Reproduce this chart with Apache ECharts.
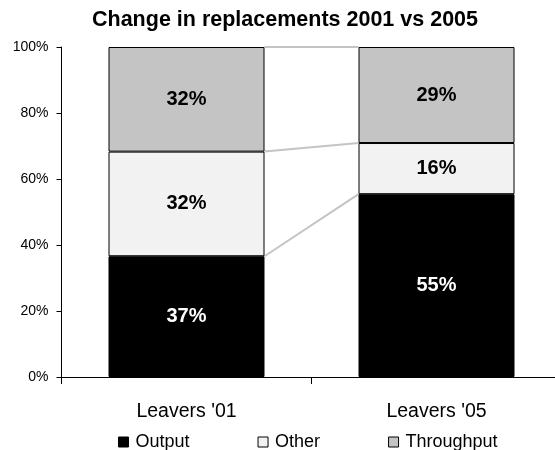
<!DOCTYPE html>
<html>
<head>
<meta charset="utf-8">
<script src="https://cdn.jsdelivr.net/npm/echarts@6/dist/echarts.min.js"></script>
<style>html,body{margin:0;padding:0;background:#fff;overflow:hidden;}#c{width:575px;height:450px;}</style>
</head>
<body>
<div id="c"></div>
<script>
const categories = ["Leavers '01", "Leavers '05"];
const outputValues = [36.6, 55.4];
const otherValues = [31.7, 15.5];
const throughputValues = [31.7, 29.1];
const yTicks = [0, 20, 40, 60, 80, 100];

const FONT = "'Liberation Sans', Arial, sans-serif";
const BAR_FRAC = 0.624;

// cumulative boundaries for the connector lines
const levels = [
  [0, outputValues[0], outputValues[1]],
  [0, outputValues[0] + otherValues[0], outputValues[1] + otherValues[1]],
  [0, outputValues[0] + otherValues[0] + throughputValues[0], outputValues[1] + otherValues[1] + throughputValues[1]]
];

const chart = echarts.init(document.getElementById('c'), null, {renderer: 'canvas'});
const labelFmt = p => Math.round(p.value) + '%';

function barSeries(name, data, color, labelColor) {
  return {
    name: name, type: 'bar', stack: 'total', data: data,
    barWidth: (BAR_FRAC * 100) + '%',
    itemStyle: {color: color, borderColor: '#000', borderWidth: 1},
    label: {show: true, position: 'inside', formatter: labelFmt,
      color: labelColor, fontFamily: FONT, fontWeight: 'bold', fontSize: 20},
    emphasis: {disabled: true},
    z: 3
  };
}

chart.setOption({
  animation: false,
  backgroundColor: '#fff',
  title: {
    text: 'Change in replacements 2001 vs 2005',
    left: 92, top: 9, padding: 0,
    textStyle: {fontFamily: FONT, fontWeight: 'bold', fontSize: 21.5, color: '#000'}
  },
  legend: {
    data: ['Output', 'Other', 'Throughput'],
    left: 118, top: 433, padding: 0,
    icon: 'rect', itemWidth: 10, itemHeight: 10, itemGap: 68,
    itemStyle: {borderColor: '#000', borderWidth: 1},
    textStyle: {fontFamily: FONT, fontSize: 18, color: '#000', padding: [0, 0, 0, 2]}
  },
  grid: {left: 61.5, top: 47, width: 500, height: 330, containLabel: false},
  xAxis: {
    type: 'category', data: categories,
    axisLine: {lineStyle: {color: '#000', width: 1}},
    axisTick: {show: true, length: 7, lineStyle: {color: '#000'}},
    axisLabel: {margin: 25, fontFamily: FONT, fontSize: 19.5, color: '#000'},
    splitLine: {show: false}
  },
  yAxis: {
    type: 'value', min: yTicks[0], max: yTicks[yTicks.length - 1], interval: 20,
    axisLine: {show: true, lineStyle: {color: '#000', width: 1}},
    axisTick: {show: true, length: 5, lineStyle: {color: '#000'}},
    axisLabel: {margin: 13, fontFamily: FONT, fontSize: 14, color: '#000', formatter: '{value}%'},
    splitLine: {show: false}
  },
  series: [
    barSeries('Output', outputValues, '#000000', '#ffffff'),
    barSeries('Other', otherValues, '#f2f2f2', '#000000'),
    barSeries('Throughput', throughputValues, '#c4c4c4', '#000000'),
    {
      type: 'custom', name: 'connectors', data: levels,
      encode: {x: 0, y: [1, 2]},
      silent: true, z: 2, clip: false,
      renderItem: function (params, api) {
        const a = api.coord([0, api.value(1)]);
        const b = api.coord([1, api.value(2)]);
        const half = api.size([1, 0])[0] * BAR_FRAC / 2;
        return {
          type: 'line',
          shape: {x1: a[0] + half, y1: a[1], x2: b[0] - half, y2: b[1]},
          style: {stroke: '#c4c4c4', lineWidth: 2}
        };
      }
    }
  ]
});
</script>
</body>
</html>
